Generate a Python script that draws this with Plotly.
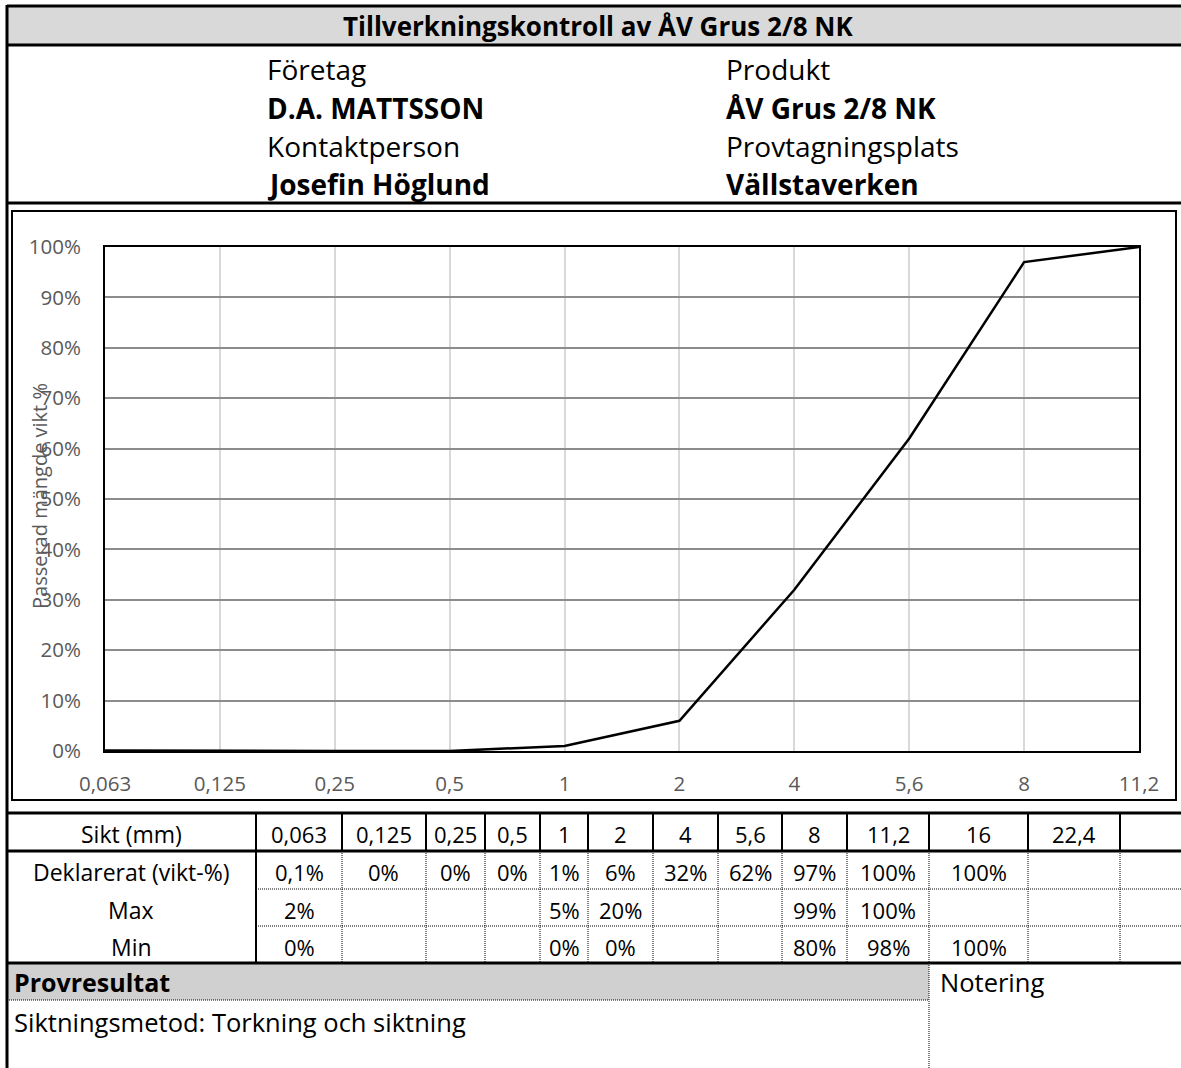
import plotly.graph_objects as go

# ---------------- data ----------------
title_text = "Tillverkningskontroll av ÅV Grus 2/8 NK"
header_left = ["Företag", "D.A. MATTSSON", "Kontaktperson", "Josefin Höglund"]
header_right = ["Produkt", "ÅV Grus 2/8 NK", "Provtagningsplats", "Vällstaverken"]
header_bold = [False, True, False, True]

sieves = ["0,063", "0,125", "0,25", "0,5", "1", "2", "4", "5,6", "8", "11,2", "16", "22,4", ""]
declared = [0.1, 0, 0, 0, 1, 6, 32, 62, 97, 100, 100, None, None]
max_lim = [2, None, None, None, 5, 20, None, None, 99, 100, None, None, None]
min_lim = [0, None, None, None, 0, 0, None, None, 80, 98, 100, None, None]
row_labels = ["Sikt (mm)", "Deklarerat (vikt-%)", "Max", "Min"]
chart_count = 10  # sieves shown in the chart (0,063 .. 11,2)
y_title = "Passerad mängde vikt %"
result_head = "Provresultat"
note_head = "Notering"
method_text = "Siktningsmetod: Torkning och siktning"

# ---------------- layout helpers ----------------
W, H = 1181, 1068
FONT = "Open Sans"


def X(px):
    return px / W


def Y(py):
    return 1 - py / H


def fmt(v):
    if v is None:
        return ""
    s = ("%g" % v).replace(".", ",")
    return s + "%"


shapes = []
annotations = []


def hline(y, x0, x1, width=1, dash="solid", color="black"):
    shapes.append(dict(type="line", xref="paper", yref="paper",
                       x0=X(x0), x1=X(x1), y0=Y(y), y1=Y(y),
                       line=dict(color=color, width=width, dash=dash)))


def vline(x, y0, y1, width=1, dash="solid", color="black"):
    shapes.append(dict(type="line", xref="paper", yref="paper",
                       x0=X(x), x1=X(x), y0=Y(y0), y1=Y(y1),
                       line=dict(color=color, width=width, dash=dash)))


def rect(x0, y0, x1, y1, fill, lw=0, lc="black"):
    shapes.append(dict(type="rect", xref="paper", yref="paper",
                       x0=X(x0), x1=X(x1), y0=Y(y1), y1=Y(y0),
                       fillcolor=fill, line=dict(width=lw, color=lc), layer="below"))


def text(x, y, s, size, bold=False, xanchor="left", color="black", angle=0):
    annotations.append(dict(xref="paper", yref="paper", x=X(x), y=Y(y),
                            text=("<b>%s</b>" % s) if bold else s,
                            showarrow=False, xanchor=xanchor, yanchor="middle",
                            textangle=angle, borderpad=0,
                            font=dict(family=FONT, size=size, color=color)))


# title band
rect(7, 6, W, 45, "#d9d9d9")
hline(6, 7, W, 3)
hline(45, 7, W, 3)
text(598, 26, title_text, 26, bold=True, xanchor="center")

# header block
row_y = [69, 108, 146, 184]
for i, y in enumerate(row_y):
    text(266, y, header_left[i], 28, bold=header_bold[i])
    text(725, y, header_right[i], 28, bold=header_bold[i])
hline(203, 7, W, 3)

# outer left border
vline(7, 5, H, 3)

# chart frame
rect(12, 211, 1176, 800, "rgba(0,0,0,0)", lw=2)

# table
col_edges = [256, 342, 426, 485, 540, 588, 653, 718, 782, 847, 929, 1028, 1120, W]
t_top, r1, r2, r3, t_bot = 813, 851, 889, 926, 963
hline(t_top, 7, W, 3)
hline(r1, 7, W, 3)
hline(t_bot, 7, W, 3)
hline(r2, 256, W, 1, dash="1px,1px")
hline(r3, 256, W, 1, dash="1px,1px")
vline(256, t_top, t_bot, 2)
for e in col_edges[1:-1]:
    vline(e, t_top, r1, 2)
    vline(e, r1, t_bot, 1, dash="1px,1px")

row_c = [834, 872, 910, 947]
for i, lab in enumerate(row_labels):
    text(131, row_c[i], lab, 23, xanchor="center")
for j, s in enumerate(sieves):
    cx = (col_edges[j] + col_edges[j + 1]) / 2
    text(cx, row_c[0], s, 22, xanchor="center")
    text(cx, row_c[1], fmt(declared[j]), 22, xanchor="center")
    text(cx, row_c[2], fmt(max_lim[j]), 22, xanchor="center")
    text(cx, row_c[3], fmt(min_lim[j]), 22, xanchor="center")

# result section
rect(7, 963, 929, 1000, "#d0d0d0")
hline(1000, 7, 929, 1, dash="1px,1px")
vline(929, 963, H, 1, dash="1px,1px")
text(13, 982, result_head, 25, bold=True)
text(939, 982, note_head, 25.5)
text(13, 1022, method_text, 25.5)

# y-axis title (overlapping ticks as in reference)
text(39, 496, y_title, 20, xanchor="center", color="#595959", angle=-90)

# ---------------- chart ----------------
fig = go.Figure()
fig.add_trace(go.Scatter(
    x=sieves[:chart_count],
    y=[v / 100 for v in declared[:chart_count]],
    mode="lines",
    line=dict(color="black", width=2.5),
    hoverinfo="skip",
    showlegend=False,
))

fig.update_layout(
    template="none",
    width=W, height=H,
    autosize=False,
    margin=dict(l=0, r=0, t=0, b=0, pad=0, autoexpand=False),
    paper_bgcolor="white",
    plot_bgcolor="white",
    font=dict(family=FONT, color="#595959"),
    shapes=shapes,
    annotations=annotations,
    xaxis=dict(
        domain=[X(105), X(1139)],
        type="category",
        range=[0, chart_count - 1],
        automargin=False,
        showgrid=True, gridcolor="#d9d9d9", gridwidth=2,
        showline=True, linecolor="black", linewidth=2, mirror=True,
        ticks="", ticklabelstandoff=13,
        tickfont=dict(size=20.5, color="#595959", family=FONT),
        zeroline=False, fixedrange=True,
    ),
    yaxis=dict(
        domain=[Y(751), Y(247)],
        range=[0, 1],
        automargin=False,
        dtick=0.1, tickformat=".0%",
        showgrid=True, gridcolor="#8c8c8c", gridwidth=1.5,
        showline=True, linecolor="black", linewidth=2, mirror=True,
        ticks="", ticklabelstandoff=18,
        tickfont=dict(size=20.5, color="#595959", family=FONT),
        zeroline=False, fixedrange=True,
    ),
)

post = ("document.documentElement.style.margin='0';"
        "document.documentElement.style.overflow='hidden';"
        "document.body.style.margin='0';"
        "document.body.style.padding='0';"
        "document.body.style.overflow='hidden';")

fig.write_html("out.html", config={"displayModeBar": False}, post_script=post)
